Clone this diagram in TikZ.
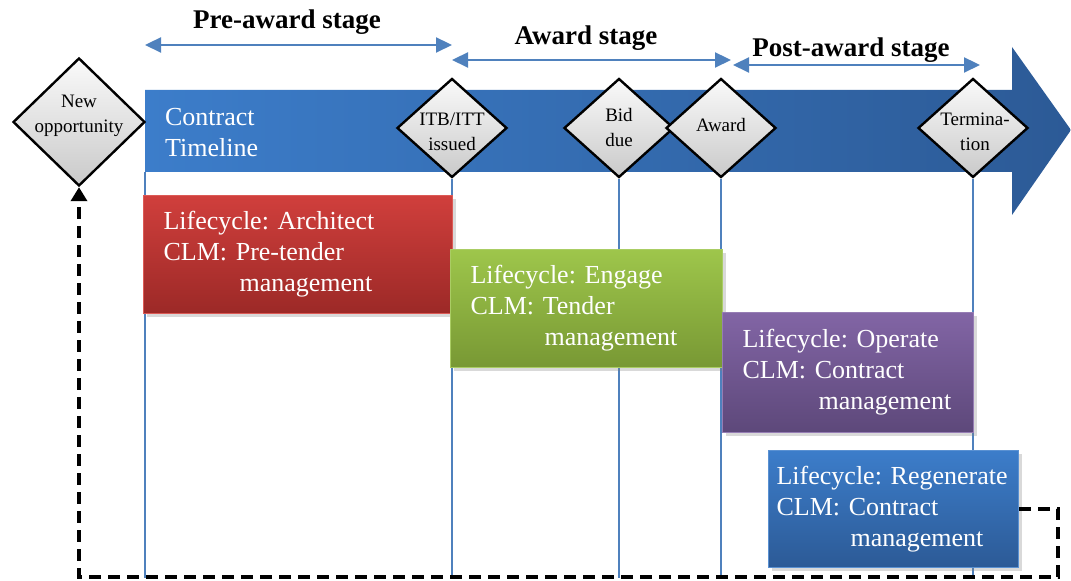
\documentclass[tikz,border=0pt]{standalone}
\usepackage{fontspec}
\setmainfont{Liberation Serif}
\usetikzlibrary{shapes.geometric,arrows.meta,shadows,positioning}
\definecolor{lineblue}{RGB}{79,129,189}
\definecolor{tlleft}{RGB}{60,125,202}
\definecolor{tlright}{RGB}{44,90,150}
\definecolor{redtop}{RGB}{208,63,60}
\definecolor{redbot}{RGB}{156,41,39}
\definecolor{redline}{RGB}{220,90,86}
\definecolor{greentop}{RGB}{158,198,75}
\definecolor{greenbot}{RGB}{120,152,52}
\definecolor{greenline}{RGB}{170,205,100}
\definecolor{purpletop}{RGB}{130,101,165}
\definecolor{purplebot}{RGB}{93,72,122}
\definecolor{purpleline}{RGB}{150,125,180}
\definecolor{bluetop}{RGB}{60,125,202}
\definecolor{bluebot}{RGB}{44,90,150}
\definecolor{blueline}{RGB}{90,145,210}
\frenchspacing

\begin{document}
\begin{tikzpicture}[x=0.5pt, y=-0.5pt,
  milestone/.style={diamond, draw=black, line width=1.2pt, top color=gray!4, bottom color=gray!42,
    inner sep=0pt, minimum width=55pt, minimum height=49.5pt},
  mtext/.style={align=center, font=\fontsize{9.5}{12.5}\selectfont},
  phase/.style={anchor=north west, text=white, align=left, inner xsep=10pt, inner ysep=0pt,
    line width=0.6pt, font=\fontsize{13}{15.5}\selectfont,
    drop shadow={opacity=0.3, shadow xshift=1.5pt, shadow yshift=-1.5pt}},
  stage/.style={font=\fontsize{13.5}{16}\selectfont\bfseries},
  stagearrow/.style={draw=lineblue, line width=1.1pt,
    {Triangle[length=8pt,width=7.5pt]}-{Triangle[length=8pt,width=7.5pt]}},
  vline/.style={draw=lineblue, line width=0.8pt},
  loopline/.style={draw=black, line width=2pt, dash pattern=on 6pt off 3.5pt,
    -{Triangle[length=7pt,width=8pt]}}
]
\useasboundingbox (0,0) rectangle (1071,581);

% timeline arrow
\shade[left color=tlleft, right color=tlright] (145,90) -- (1012,90) -- (1012,47) -- (1071,130)
  -- (1012,215) -- (1012,172) -- (145,172) -- cycle;
\node[anchor=west, text=white, align=left, font=\fontsize{13}{15.5}\selectfont] (timeline) at (158,133)
  {Contract\\Timeline};
\coordinate (tl-sw) at (145,172);
\coordinate (floor) at (0,578);

% milestones
\node[milestone, minimum width=66pt, minimum height=64pt,
  label={[mtext, yshift=3pt]center:New\\opportunity}] (newopp) at (79,122) {};
\node[milestone, label={[mtext, yshift=-2pt]center:ITB/ITT\\issued}] (itb) at (452,128) {};
\node[milestone, label={[mtext]center:Bid\\due}] (biddue) at (619,128) {};
\node[milestone, label={[mtext, yshift=1.5pt]center:Award}] (award) at (721,128) {};
\node[milestone, label={[mtext, xshift=1pt, yshift=-2pt]center:Termina-\\tion}] (termination) at (973,128) {};

\draw[vline] (tl-sw) -- (tl-sw |- floor);
\foreach \m in {itb,biddue,award,termination}
  \draw[vline] (\m.south) -- (\m.south |- floor);

% stages
\coordinate (pre-l) at (145,45);
\coordinate (pre-r) at (452,45);
\coordinate (awd-l) at (452,60);
\coordinate (awd-r) at (731,60);
\coordinate (post-l) at (733,65);
\coordinate (post-r) at (980,65);
\draw[stagearrow] (pre-l) -- (pre-r);
\draw[stagearrow] (awd-l) -- (awd-r);
\draw[stagearrow] (post-l) -- (post-r);
\node[stage] (prestage) at (287,22) {Pre-award stage};
\node[stage] (awdstage) at (586,38) {Award stage};
\node[stage] (poststage) at (851,50) {Post-award stage};

% lifecycle phases
\node[phase, top color=redtop, bottom color=redbot, draw=redline,
  text width=134.5pt, minimum height=59pt] (architect) at (143,195)
  {Lifecycle: Architect\\CLM: Pre-tender\\\hspace*{38pt}management};
\node[phase, top color=greentop, bottom color=greenbot, draw=greenline,
  text width=116pt, minimum height=59pt] (engage) at (450,249)
  {Lifecycle: Engage\\CLM: Tender\\\hspace*{37pt}management};
\node[phase, top color=purpletop, bottom color=purplebot, draw=purpleline,
  text width=105.5pt, minimum height=60pt] (operate) at (722,312)
  {Lifecycle: Operate\\CLM: Contract\\\hspace*{38pt}management};
\node[phase, top color=bluetop, bottom color=bluebot, draw=blueline, inner xsep=4pt,
  text width=117pt, minimum height=58.5pt] (regenerate) at (768,450)
  {Lifecycle: Regenerate\\CLM: Contract\\\hspace*{37pt}management};

% back to a new opportunity
\coordinate (loop-se) at (1058,577);
\draw[loopline] (regenerate.east) -| (loop-se) -| (newopp.south);
\end{tikzpicture}
\end{document}
